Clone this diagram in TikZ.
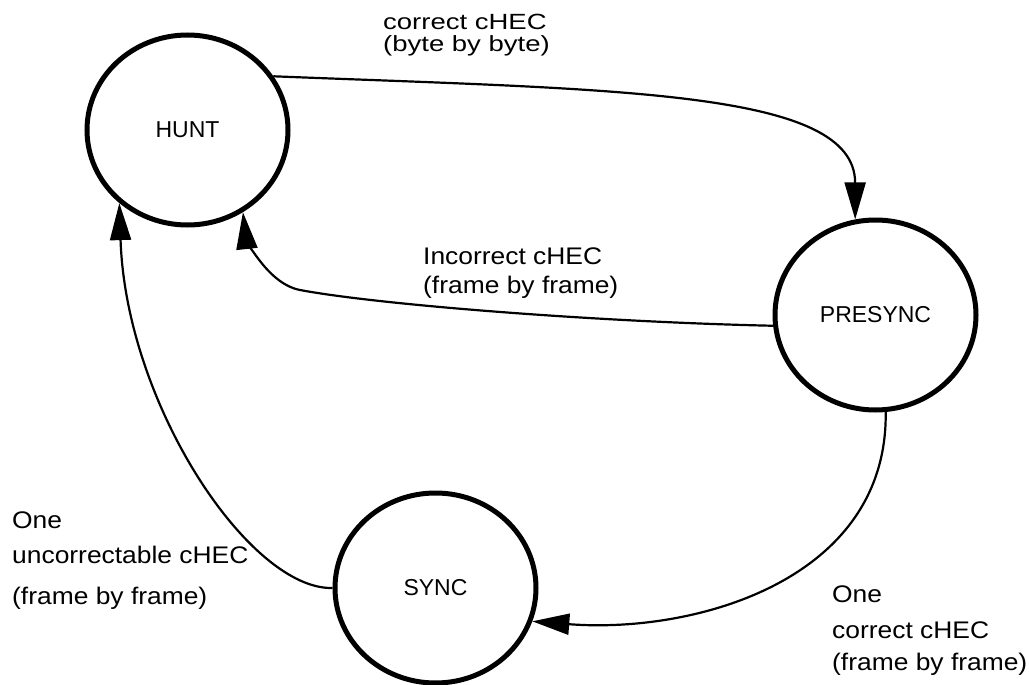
\documentclass[tikz,border=0pt]{standalone}
\usepackage{fontspec}
\setmainfont{Liberation Sans}
% labels on the transitions are set slightly wider than the state names
\newfontfamily\edgefont[FakeStretch=1.1]{Liberation Sans}
\newfontfamily\wideedgefont[FakeStretch=1.25]{Liberation Sans}
\usetikzlibrary{arrows.meta,shapes.geometric}
\begin{document}
\begin{tikzpicture}[x=1pt,y=-1pt,
  state/.style={draw, ellipse, line width=5pt, minimum width=201pt,
    minimum height=190pt, inner sep=0pt, font=\fontsize{23}{27}\selectfont},
  trans/.style={draw, line width=2.2pt, -{Triangle[length=37pt,width=21pt]}},
  edgelabel/.style={anchor=base west, inner sep=0pt,
    font=\edgefont\fontsize{24}{28}\selectfont},
  toplabel/.style={edgelabel, font=\wideedgefont\fontsize{22}{26}\selectfont}]
\useasboundingbox (0,0) rectangle (1029,685);

% states
\node[state] (hunt)    at (187.5,130) {HUNT};
\node[state] (presync) at (875.5,315) {PRESYNC};
\node[state] (sync)    at (435.5,588) {SYNC};

% transitions
\draw[trans] (hunt.32) .. controls (620,90) and (855,90) .. (presync.102);
\draw[trans] (presync.186) .. controls (600,322) and (380,305) .. (300,290)
             .. controls (264,283) and (245,231) .. (hunt.-56);
\draw[trans] (presync.-84) .. controls (888,580) and (695,634) .. (sync.-19);
\draw[trans] (sync.180) .. controls (250,590) and (126,405) .. (hunt.-133);

% transition conditions
\node[toplabel] (byteA) at (383,30) {correct cHEC};
\node[toplabel] (byteB) at (383,52) {(byte by byte)};

\node[edgelabel] (badA) at (423,264) {Incorrect cHEC};
\node[edgelabel] (badB) at (423,293) {(frame by frame)};

\node[edgelabel] (goodA) at (832,602) {One};
\node[edgelabel] (goodB) at (832,638) {correct cHEC};
\node[edgelabel] (goodC) at (832,670) {(frame by frame)};

\node[edgelabel] (lostA) at (12,528) {One};
\node[edgelabel] (lostB) at (12,563) {uncorrectable cHEC};
\node[edgelabel] (lostC) at (12,604) {(frame by frame)};
\end{tikzpicture}
\end{document}
